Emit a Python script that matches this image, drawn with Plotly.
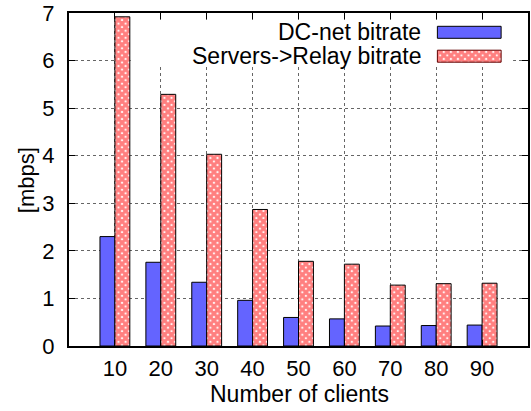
import plotly.graph_objects as go

clients = [10, 20, 30, 40, 50, 60, 70, 80, 90]
dcnet_bitrate = [2.30, 1.76, 1.34, 0.96, 0.60, 0.57, 0.42, 0.43, 0.44]
relay_bitrate = [6.92, 5.29, 4.03, 2.87, 1.78, 1.72, 1.28, 1.31, 1.32]
series_names = ["DC-net bitrate", "Servers->Relay bitrate"]
y_ticks = [0, 1, 2, 3, 4, 5, 6, 7]
x_title = "Number of clients"
y_title = "[mbps]"

FONT = "Liberation Sans, Arial, Helvetica, sans-serif"
FS = 22
FS_KEY = 23
BLUE = "#6464ff"

# plot-area pixel geometry (used for the hand-built gnuplot-style key)
L, R, T, B = 69, 530, 13, 346
W, H = 531, 411

PAT = dict(shape="x", fgcolor="red", bgcolor="white", size=5, solidity=0.85)

fig = go.Figure()

fig.add_trace(go.Bar(
    x=clients, y=dcnet_bitrate, name=series_names[0],
    marker=dict(color=BLUE, line=dict(color="black", width=1)),
    showlegend=False,
))
fig.add_trace(go.Bar(
    x=clients, y=relay_bitrate, name=series_names[1],
    marker=dict(color="white", line=dict(color="black", width=1), pattern=PAT),
    showlegend=False,
))

# key samples on an overlay axis pair in pixel units
rows_y = [32.3, 56.2]
fig.add_trace(go.Bar(
    x=[64], base=[439], y=[rows_y[0]], width=[12], orientation="h",
    marker=dict(color=BLUE, line=dict(color="black", width=1)),
    xaxis="x2", yaxis="y2", showlegend=False, hoverinfo="skip",
))
fig.add_trace(go.Bar(
    x=[64], base=[439], y=[rows_y[1]], width=[12], orientation="h",
    marker=dict(color="white", line=dict(color="#600000", width=1), pattern=PAT),
    xaxis="x2", yaxis="y2", showlegend=False, hoverinfo="skip",
))

for name, yy in zip(series_names, rows_y):
    fig.add_annotation(
        x=425, y=yy, xref="x2", yref="y2", text=name, showarrow=False,
        xanchor="right", yanchor="middle",
        font=dict(family=FONT, size=FS_KEY, color="black"),
    )

# axis titles placed like gnuplot's
fig.add_annotation(
    x=(300.5 - L) / (R - L), y=(B - 393.5) / (B - T), xref="paper", yref="paper",
    text=x_title, showarrow=False, xanchor="center", yanchor="middle",
    font=dict(family=FONT, size=FS_KEY, color="black"),
)
fig.add_annotation(
    x=(26 - L) / (R - L), y=(B - 180) / (B - T), xref="paper", yref="paper",
    text=y_title, showarrow=False, xanchor="center", yanchor="middle",
    textangle=-90, font=dict(family=FONT, size=FS, color="black"),
)

# opaque key background (hides grid behind the key)
xpx = (R - L) / 100.0
ypx = (B - T) / 7.0
fig.add_shape(
    type="rect", xref="x", yref="y", layer="between",
    x0=(131 - L) / xpx, x1=(515 - L) / xpx,
    y0=(B - 66) / ypx, y1=(B - 20) / ypx,
    fillcolor="white", line=dict(width=0),
)

grid = dict(showgrid=True, gridcolor="#666666", griddash="dot", gridwidth=1)

fig.update_layout(
    width=W, height=H,
    margin=dict(l=L, r=W - R, t=T, b=H - B),
    paper_bgcolor="white", plot_bgcolor="white",
    barmode="group", bargap=0.35, bargroupgap=0.0,
    font=dict(family=FONT, size=FS, color="black"),
    xaxis=dict(
        range=[0, 100], tickvals=clients, ticktext=[str(c) for c in clients],
        ticks="inside", ticklen=6, tickcolor="black",
        showline=True, linewidth=2, linecolor="black", mirror="ticks",
        zeroline=False, ticklabelstandoff=2,
        tickfont=dict(family=FONT, size=FS), **grid,
    ),
    yaxis=dict(
        range=[0, 7], tickvals=y_ticks,
        ticks="inside", ticklen=6, tickcolor="black",
        showline=True, linewidth=2, linecolor="black", mirror="ticks",
        zeroline=False, ticklabelstandoff=8,
        tickfont=dict(family=FONT, size=FS), **grid,
    ),
    xaxis2=dict(overlaying="x", range=[L, R], visible=False, fixedrange=True),
    yaxis2=dict(overlaying="y", range=[B, T], visible=False, fixedrange=True),
)

fig.write_html("out.html", config={"displayModeBar": False},
               post_script="document.body.style.margin='0';")
